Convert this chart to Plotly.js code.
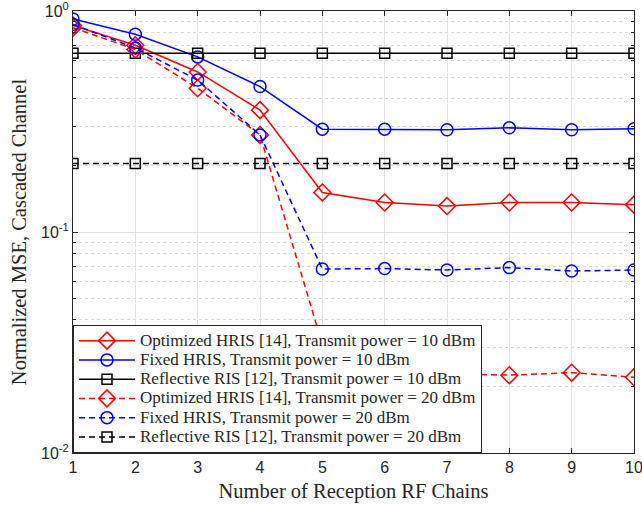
<!DOCTYPE html>
<html>
<head>
<meta charset="utf-8">
<script src="https://cdn.plot.ly/plotly-3.0.1.min.js"></script>
<style>html,body{margin:0;padding:0;background:#fff;}#chart{width:642px;height:505px;}</style>
</head>
<body>
<div id="chart"></div>
<script>
const rfChains = [1, 2, 3, 4, 5, 6, 7, 8, 9, 10];
const optHris10 = [0.86, 0.70, 0.53, 0.356, 0.151, 0.136, 0.131, 0.136, 0.136, 0.133];
const fixHris10 = [0.92, 0.785, 0.62, 0.455, 0.292, 0.292, 0.290, 0.296, 0.290, 0.293];
const refRis10 = [0.644, 0.644, 0.644, 0.644, 0.644, 0.644, 0.644, 0.644, 0.644, 0.644];
const optHris20 = [0.84, 0.67, 0.447, 0.275, 0.031, 0.0235, 0.0228, 0.0225, 0.0231, 0.022];
const fixHris20 = [0.87, 0.68, 0.487, 0.275, 0.068, 0.0683, 0.0673, 0.069, 0.0666, 0.0673];
const refRis20 = [0.204, 0.204, 0.204, 0.204, 0.204, 0.204, 0.204, 0.204, 0.204, 0.204];
const yTickVals = [0.01, 0.1, 1];
const yTickText = ['10<sup>-2</sup>', '10<sup>-1</sup>', '10<sup>0</sup>'];
const names = [
  'Optimized HRIS [14], Transmit power = 10 dBm',
  'Fixed HRIS, Transmit power = 10 dBm',
  'Reflective RIS [12], Transmit power = 10 dBm',
  'Optimized HRIS [14], Transmit power = 20 dBm',
  'Fixed HRIS, Transmit power = 20 dBm',
  'Reflective RIS [12], Transmit power = 20 dBm'
];
const series = [optHris10, fixHris10, refRis10, optHris20, fixHris20, refRis20];
const colors = ['#ff0000', '#0000ff', '#000000', '#ff0000', '#0000ff', '#000000'];
const symbols = ['diamond-open', 'circle-open', 'square-open', 'diamond-open', 'circle-open', 'square-open'];
const sizes = [13, 12, 10, 13, 12, 10];
const dashes = ['solid', 'solid', 'solid', '6px,4px', '6px,4px', '6px,4px'];

const serif = '"Liberation Serif", "Times New Roman", serif';
const sans = '"Liberation Sans", Arial, sans-serif';

const traces = series.map((ys, i) => ({
  x: rfChains, y: ys, type: 'scatter', mode: 'lines+markers',
  name: '<span style="font-size:17px">' + names[i] + '</span>',
  line: {color: colors[i], width: 1.5, dash: dashes[i]},
  marker: {symbol: symbols[i], size: sizes[i], color: colors[i], line: {color: colors[i], width: 1.5}}
}));

const layout = {
  width: 642, height: 505,
  margin: {l: 73, r: 8, t: 11, b: 52},
  paper_bgcolor: '#fff', plot_bgcolor: '#fff',
  font: {family: serif, size: 16, color: '#262626'},
  showlegend: true,
  xaxis: {
    range: [1, 10], tickmode: 'array', tickvals: rfChains, ticktext: rfChains.map(String),
    ticklabeloverflow: 'allow',
    showgrid: true, gridcolor: '#e3e3e3', gridwidth: 1,
    zeroline: false, showline: true, linecolor: '#262626', linewidth: 1, mirror: 'ticks',
    ticks: 'inside', ticklen: 5, tickcolor: '#262626',
    tickfont: {family: sans, size: 16, color: '#262626'},
    title: {text: 'Number of Reception RF Chains', font: {family: serif, size: 20.5, color: '#262626'}, standoff: 8}
  },
  yaxis: {
    type: 'log', range: [-2, 0], tickmode: 'array', tickvals: yTickVals, ticktext: yTickText,
    ticklabeloverflow: 'allow',
    showgrid: true, gridcolor: '#e3e3e3', gridwidth: 1,
    zeroline: false, showline: true, linecolor: '#262626', linewidth: 1, mirror: 'ticks',
    ticks: 'inside', ticklen: 5, tickcolor: '#262626',
    tickfont: {family: sans, size: 16, color: '#262626'},
    minor: {dtick: 'D1', ticks: 'inside', ticklen: 3, tickcolor: '#262626', showgrid: true, gridcolor: '#d8d8d8', griddash: 'dot', gridwidth: 1},
    title: {text: 'Normalized MSE, Cascaded Channel', font: {family: serif, size: 20.5, color: '#262626'}, standoff: 8}
  },
  legend: {
    x: 0, y: 0, xanchor: 'left', yanchor: 'bottom',
    bgcolor: '#ffffff', bordercolor: '#262626', borderwidth: 1,
    font: {family: serif, size: 12.5, color: '#262626'},
    itemwidth: 56, tracegroupgap: 0
  }
};
Plotly.newPlot('chart', traces, layout, {displayModeBar: false, staticPlot: true});
</script>
</body>
</html>
